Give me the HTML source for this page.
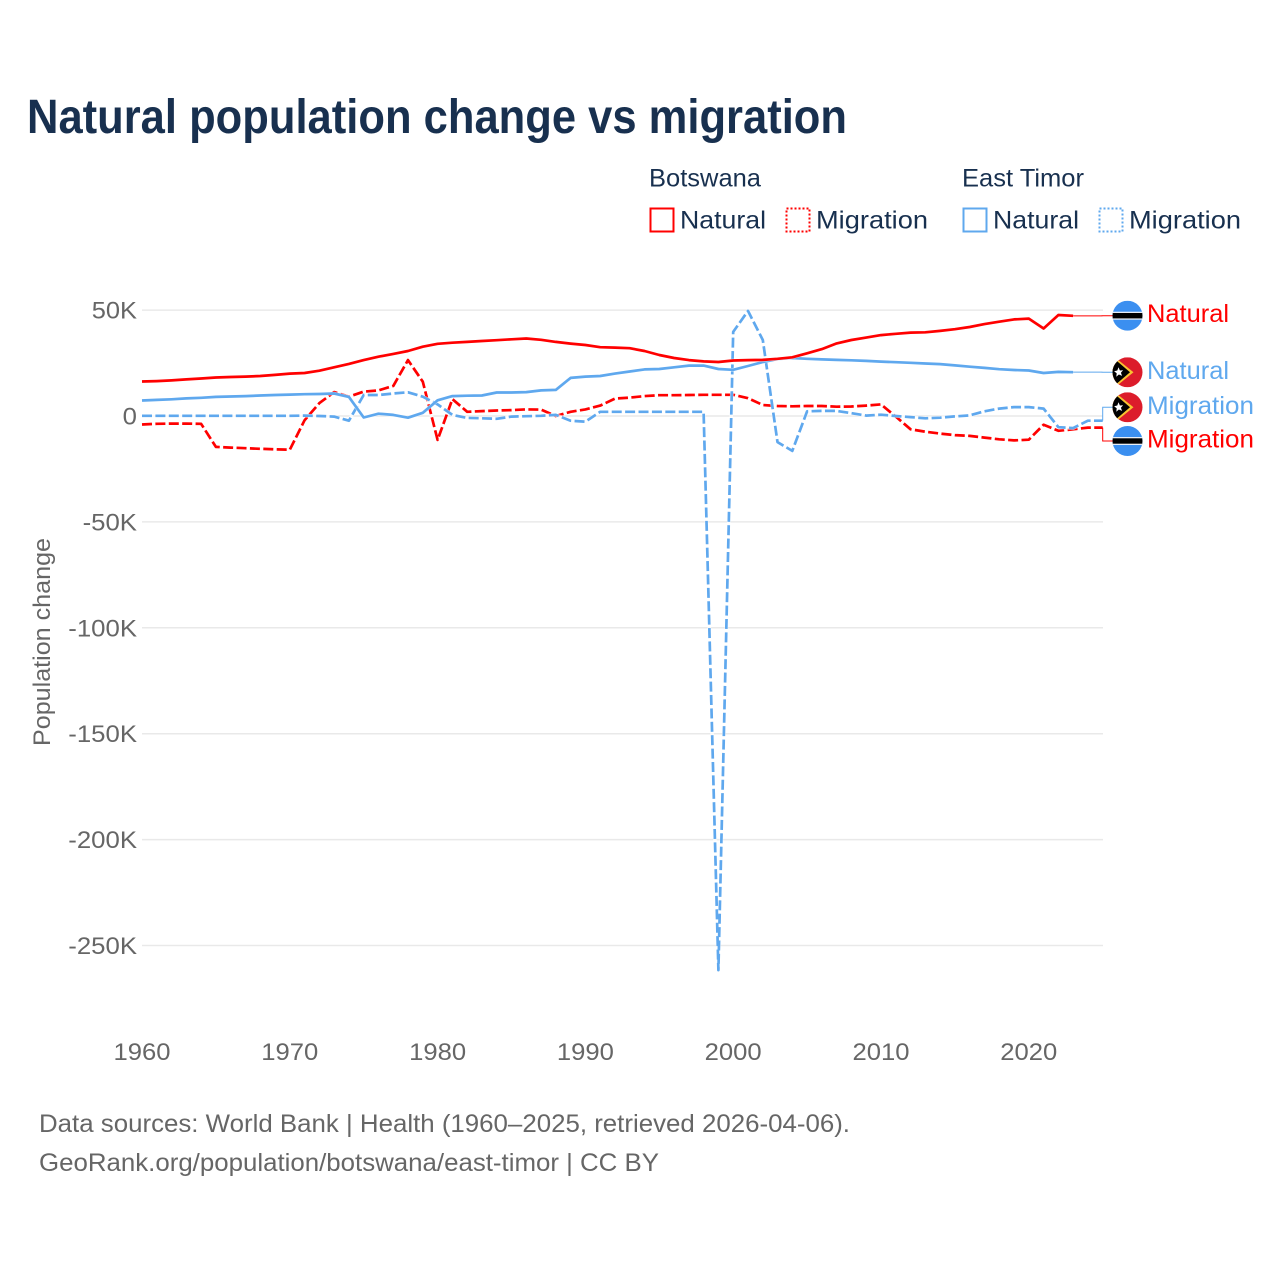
<!DOCTYPE html>
<html lang="en">
<head>
<meta charset="utf-8">
<title>Natural population change vs migration</title>
<style>
html,body{margin:0;padding:0;background:#fff;width:1280px;height:1280px;overflow:hidden}
svg{display:block;font-family:"Liberation Sans",sans-serif}
</style>
</head>
<body>
<svg id="chart" width="1280" height="1280" viewBox="0 0 1280 1280" xmlns="http://www.w3.org/2000/svg">
  <defs>
    <clipPath id="flag-clip"><circle cx="0" cy="0" r="15"/></clipPath>
    <g id="flag-botswana">
      <g clip-path="url(#flag-clip)">
        <rect x="-15" y="-15" width="30" height="30" fill="#3b8ff0"/>
        <rect x="-15" y="-4" width="30" height="8" fill="#e8eef5"/>
        <rect x="-15" y="-2.7" width="30" height="5.4" fill="#000"/>
      </g>
    </g>
    <g id="flag-east-timor">
      <g clip-path="url(#flag-clip)">
        <rect x="-15" y="-15" width="30" height="30" fill="#dc1c2b"/>
        <polygon points="-15,-17 6,0 -15,17" fill="#f8c331"/>
        <polygon points="-15,-15 2.5,0 -15,15" fill="#000"/>
        <polygon points="-9,-5 -7.6,-1.8 -4.4,-2 -6.6,0.5 -5.4,3.6 -8.6,2.2 -11.2,4.4 -10.8,1 -13.4,-1 -10.2,-1.8" fill="#fff"/>
      </g>
    </g>
  </defs>

  <text x="27" y="133" font-size="48" font-weight="700" fill="#18304f" textLength="820" lengthAdjust="spacingAndGlyphs">Natural population change vs migration</text>

  <g font-size="25" fill="#18304f">
    <text x="649" y="186.5" textLength="112" lengthAdjust="spacingAndGlyphs">Botswana</text>
    <rect x="650.5" y="208.5" width="23" height="23" fill="none" stroke="#ff0000" stroke-width="2"/>
    <text x="680" y="228.5" textLength="86" lengthAdjust="spacingAndGlyphs">Natural</text>
    <rect x="786.5" y="208.5" width="23" height="23" fill="none" stroke="#ff0000" stroke-width="2" stroke-dasharray="2 2"/>
    <text x="816" y="228.5" textLength="112" lengthAdjust="spacingAndGlyphs">Migration</text>
    <text x="962" y="186.5" textLength="122" lengthAdjust="spacingAndGlyphs">East Timor</text>
    <rect x="963.5" y="208.5" width="23" height="23" fill="none" stroke="#5fa8ee" stroke-width="2"/>
    <text x="993" y="228.5" textLength="86" lengthAdjust="spacingAndGlyphs">Natural</text>
    <rect x="1099.5" y="208.5" width="23" height="23" fill="none" stroke="#5fa8ee" stroke-width="2" stroke-dasharray="2 2"/>
    <text x="1129" y="228.5" textLength="112" lengthAdjust="spacingAndGlyphs">Migration</text>
  </g>

  <g id="grid"></g>
  <g id="y-ticks" font-size="24" fill="#666"></g>
  <g id="x-ticks" font-size="24" fill="#666"></g>
  <text transform="translate(50,642) rotate(-90)" text-anchor="middle" font-size="24" fill="#666" textLength="208" lengthAdjust="spacingAndGlyphs">Population change</text>

  <g id="series"></g>
  <g id="labels"></g>

  <text x="39" y="1132" font-size="25" fill="#666" textLength="811" lengthAdjust="spacingAndGlyphs">Data sources: World Bank | Health (1960–2025, retrieved 2026-04-06).</text>
  <text x="39" y="1171" font-size="25" fill="#666" textLength="620" lengthAdjust="spacingAndGlyphs">GeoRank.org/population/botswana/east-timor | CC BY</text>
</svg>

<script>
// Values in thousands of people per year.
const yTicks = [50, 0, -50, -100, -150, -200, -250];
const yTickLabels = ['50K', '0', '-50K', '-100K', '-150K', '-200K', '-250K'];
const xTicks = [1960, 1970, 1980, 1990, 2000, 2010, 2020];
const firstYear = 1960;

const botswanaNatural = [16.3,16.5,16.8,17.3,17.7,18.2,18.4,18.6,18.9,19.4,20,20.3,21.4,23,24.6,26.4,28,29.3,30.7,32.7,34.1,34.6,35,35.4,35.8,36.2,36.6,36,35,34.2,33.5,32.5,32.3,32,30.7,28.8,27.4,26.4,25.8,25.5,26.2,26.4,26.5,27,27.7,29.6,31.6,34.3,35.9,37,38.2,38.8,39.4,39.5,40.2,41,42,43.4,44.5,45.6,46,41.3,47.7,47.3];
const eastTimorNatural = [7.3,7.6,7.9,8.3,8.6,9,9.2,9.4,9.7,9.9,10.1,10.3,10.4,10.6,9,-0.7,1.1,0.5,-0.8,1.5,7.4,9.4,9.6,9.7,11.1,11.1,11.3,12.1,12.3,18,18.6,18.9,20,21,22,22.2,23,23.8,23.8,22.2,21.8,23.6,25.5,26.9,27.4,27,26.7,26.5,26.3,26,25.7,25.4,25.1,24.8,24.5,23.9,23.3,22.7,22.1,21.7,21.5,20.3,20.8,20.7];
const botswanaMigration = [-4,-3.7,-3.6,-3.6,-3.7,-14.6,-14.9,-15.2,-15.5,-15.7,-15.9,-2,6.1,11.3,9.1,11.5,12.1,14.2,26.4,16.2,-11.3,8,2,2.3,2.6,2.8,3.1,3,0,2,3.1,4.9,8.2,8.7,9.4,9.8,9.8,9.9,10,10,10,8.4,5.2,4.7,4.6,4.7,4.7,4.4,4.5,4.9,5.5,-0.3,-6.3,-7.4,-8.3,-9,-9.4,-10.2,-11,-11.5,-11.2,-4.1,-7,-6.3,-5.5,-5.5];
const eastTimorMigration = [0.1,0.1,0.1,0.1,0.1,0.1,0.1,0.1,0.1,0.1,0.1,0.2,0,-0.3,-2.2,9.9,9.9,10.6,11.2,9.1,5.5,0.5,-0.9,-1.1,-1.3,-0.3,-0.1,0.1,0.5,-2.2,-2.7,2,2,2,2,2,2,2,2,-261.6,39.7,49.6,35.9,-12.3,-16.5,2.2,2.4,2.4,1.3,0.2,0.6,0,-0.5,-1.1,-0.8,-0.2,0.3,2.2,3.5,4.2,4.2,3.5,-5.3,-5.7,-2.2,-2.2];

const seriesNames = ['botswana-migration', 'east-timor-migration', 'east-timor-natural', 'botswana-natural'];
const seriesValues = [botswanaMigration, eastTimorMigration, eastTimorNatural, botswanaNatural];
const seriesColors = ['#ff0000', '#5fa8ee', '#5fa8ee', '#ff0000'];
const seriesDashed = [true, true, false, false];
const endLabels = ['Migration', 'Migration', 'Natural', 'Natural'];
const endFlags = ['flag-botswana', 'flag-east-timor', 'flag-east-timor', 'flag-botswana'];
const endLabelY = [441, 407.3, 372.3, 315.7];

const NS = 'http://www.w3.org/2000/svg';
function xScale(year) { return 142 + (year - 1960) * 14.78; }
function yScale(value) { return 416 - value * 2.118; }
function make(tag, attrs, parent) {
  const el = document.createElementNS(NS, tag);
  for (const k in attrs) el.setAttribute(k, attrs[k]);
  parent.appendChild(el);
  return el;
}
function labelWidth(text) {
  let w = 0;
  for (const c of text) w += c === '-' ? 9.2 : c === 'K' ? 16.6 : 14.3;
  return w;
}

const gridG = document.getElementById('grid');
const yG = document.getElementById('y-ticks');
yTicks.forEach(function (t, i) {
  const line = make('line', { x1: 142, x2: 1103, y1: yScale(t), y2: yScale(t), stroke: '#e9e9e9', 'stroke-width': 1.5 }, gridG);
  
  
  const label = make('text', { x: 137, y: yScale(t) + 8.5, 'text-anchor': 'end', textLength: labelWidth(yTickLabels[i]), lengthAdjust: 'spacingAndGlyphs' }, yG);
  label.textContent = yTickLabels[i];
  
  
});

const xG = document.getElementById('x-ticks');
xTicks.forEach(function (t) {
  const label = make('text', { x: xScale(t), y: 1060, 'text-anchor': 'middle', textLength: 57, lengthAdjust: 'spacingAndGlyphs' }, xG);
  label.textContent = String(t);
  
  
});

const seriesG = document.getElementById('series');
const labelsG = document.getElementById('labels');
seriesNames.forEach(function (name, s) {
  const values = seriesValues[s];
  const pts = values.map(function (v, i) { return xScale(firstYear + i).toFixed(1) + ',' + yScale(v).toFixed(1); }).join(' ');
  const halo = make('polyline', { points: pts, fill: 'none', stroke: '#fff', 'stroke-width': 3.6, 'stroke-linejoin': 'round', opacity: 0.7 }, seriesG);
  
  
  const line = make('polyline', { points: pts, fill: 'none', stroke: seriesColors[s], 'stroke-width': 2.7, 'stroke-linejoin': 'round' }, seriesG);
  if (seriesDashed[s]) line.setAttribute('stroke-dasharray', '10 3.4');
  
  

  const lastIdx = values.length - 1;
  const ex = xScale(firstYear + lastIdx);
  const ey = yScale(values[lastIdx]);
  const ly = endLabelY[s];
  const elbow = Math.max(ex, 1102);
  const connector = make('polyline', { points: ex + ',' + ey + ' ' + elbow + ',' + ey + ' ' + elbow + ',' + ly + ' 1113,' + ly, fill: 'none', stroke: seriesColors[s], 'stroke-width': 1 }, labelsG);
  
  
  const flag = make('use', { href: '#' + endFlags[s], transform: 'translate(1127.5,' + ly + ')' }, labelsG);
  
  
  const text = make('text', { x: 1147, y: ly + 6.5, 'font-size': 25, fill: seriesColors[s], textLength: endLabels[s] === 'Natural' ? 82 : 107, lengthAdjust: 'spacingAndGlyphs' }, labelsG);
  text.textContent = endLabels[s];
  
  
});
</script>
</body>
</html>
